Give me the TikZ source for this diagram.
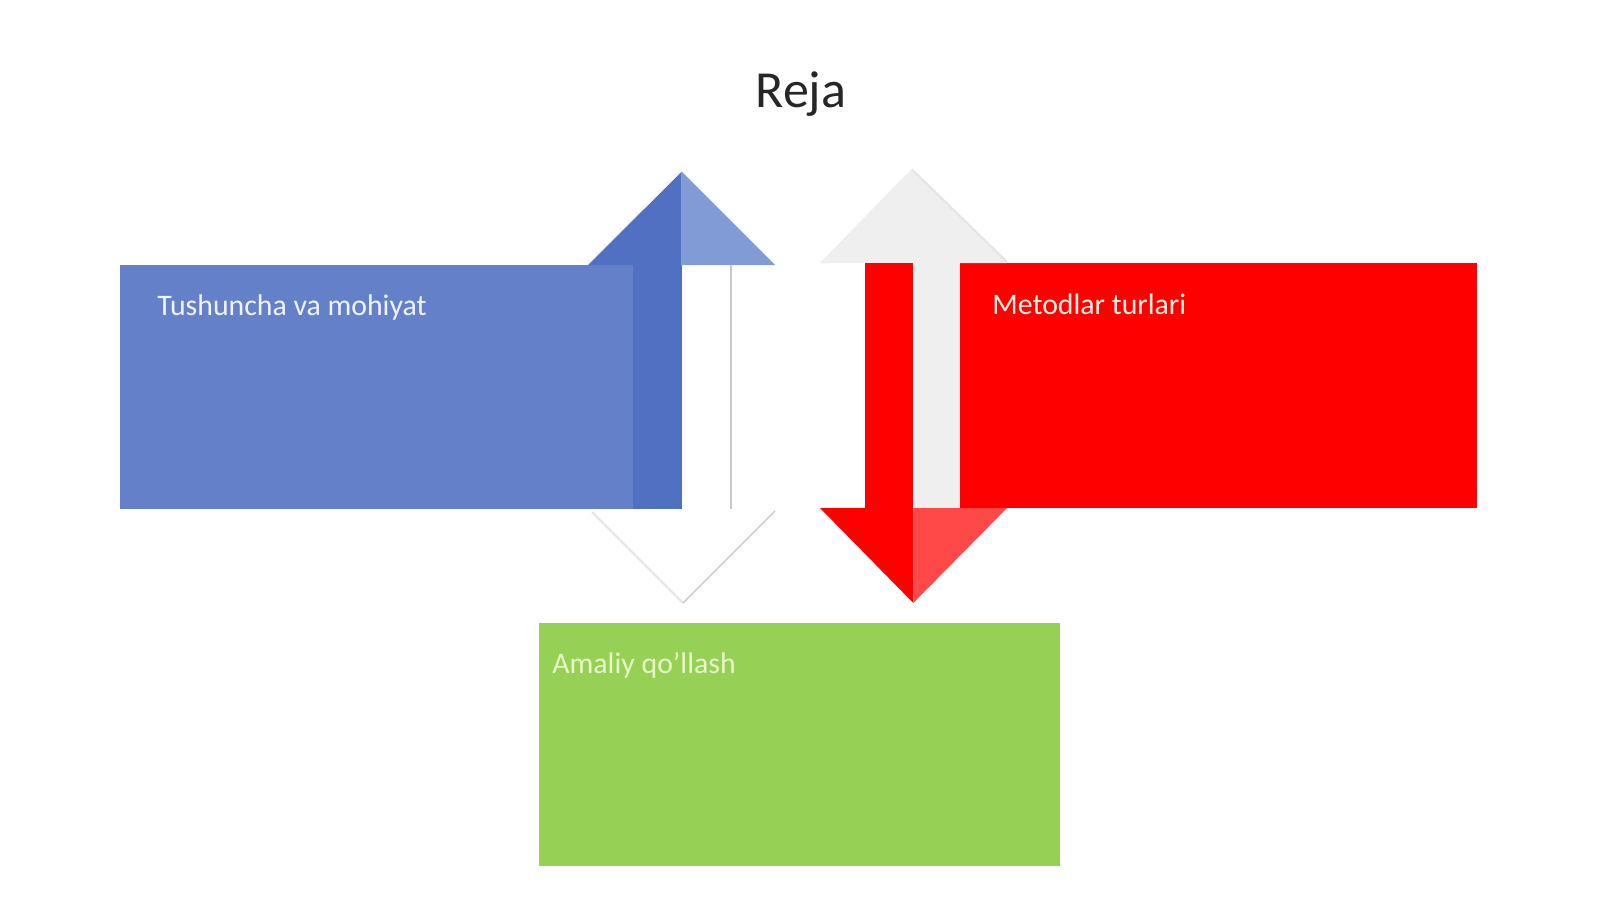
\documentclass[tikz,border=0pt]{standalone}
\usepackage{fontspec}
\setmainfont{Carlito}
\definecolor{bluebox}{RGB}{99,128,200}
\definecolor{bluedark}{RGB}{80,113,194}
\definecolor{bluelight}{RGB}{128,155,213}
\definecolor{redbox}{RGB}{255,0,0}
\definecolor{redlight}{RGB}{255,72,72}
\definecolor{greybar}{RGB}{239,239,239}
\definecolor{greenbox}{RGB}{150,208,85}
\definecolor{greentext}{RGB}{232,247,200}
\definecolor{bluetext}{RGB}{240,244,255}
\definecolor{redtext}{RGB}{255,240,226}
\definecolor{titlegray}{RGB}{38,38,38}
\definecolor{shadowgray}{RGB}{200,200,200}
\tikzset{
  boxlabel/.style={anchor=base west, inner sep=0pt, font=\fontsize{14.9}{18}\selectfont},
  shadowline/.style={draw=shadowgray, line width=0.6pt},
}
\begin{document}
\begin{tikzpicture}[x=0.5pt,y=-0.5pt]
\useasboundingbox[fill=white] (0,0) rectangle (1600,899);
% title
\node[anchor=base, inner sep=0pt, text=titlegray, font=\fontsize{26}{30}\selectfont] (title) at (801,108) {Reja};

% blue box and up arrow
\fill[bluebox] (120,265) rectangle (633,509);
\coordinate (btip) at (681.7,171.7);
\fill[bluedark] (588,265) -- (btip) -- (681.7,265) -- cycle;
\fill[bluelight] (btip) -- (775,265) -- (681.7,265) -- cycle;
\fill[bluedark] (633,265) rectangle (681.7,509);
\draw[shadowline] (731,265) -- (731,509);
% white down arrowhead
\coordinate (wtip) at (683,603);
\fill[white] (590,510) -- (775,511) -- (wtip) -- cycle;
\draw[draw=shadowgray!45, line width=1pt] (592,512) -- (wtip);
\draw[draw=shadowgray!110, line width=0.6pt] (wtip) -- (775,511);

% red box and arrow
\fill[redbox] (960,263) rectangle (1477,508);
\coordinate (gtip) at (911.5,169);
\fill[greybar] (820,263) -- (gtip) -- (1007,263) -- cycle;
\draw[draw=shadowgray!50, line width=1pt] (gtip) -- (1007,262);
\fill[redbox] (865,263) rectangle (913.3,508);
\fill[greybar] (913.3,263) rectangle (960,508);
\coordinate (rtip) at (913.3,603);
\fill[redbox] (820,508) -- (913.3,508) -- (rtip) -- cycle;
\fill[redlight] (913.3,508) -- (1007,508) -- (rtip) -- cycle;

% green box
\fill[greenbox] (539,623) rectangle (1060,866);

% labels
\node[boxlabel, text=bluetext] (l1) at (157,315) {Tushuncha va mohiyat};
\node[boxlabel, text=redtext] (l2) at (992,314) {Metodlar turlari};
\node[boxlabel, text=greentext] (l3) at (552,673) {Amaliy qo’llash};
\end{tikzpicture}
\end{document}
